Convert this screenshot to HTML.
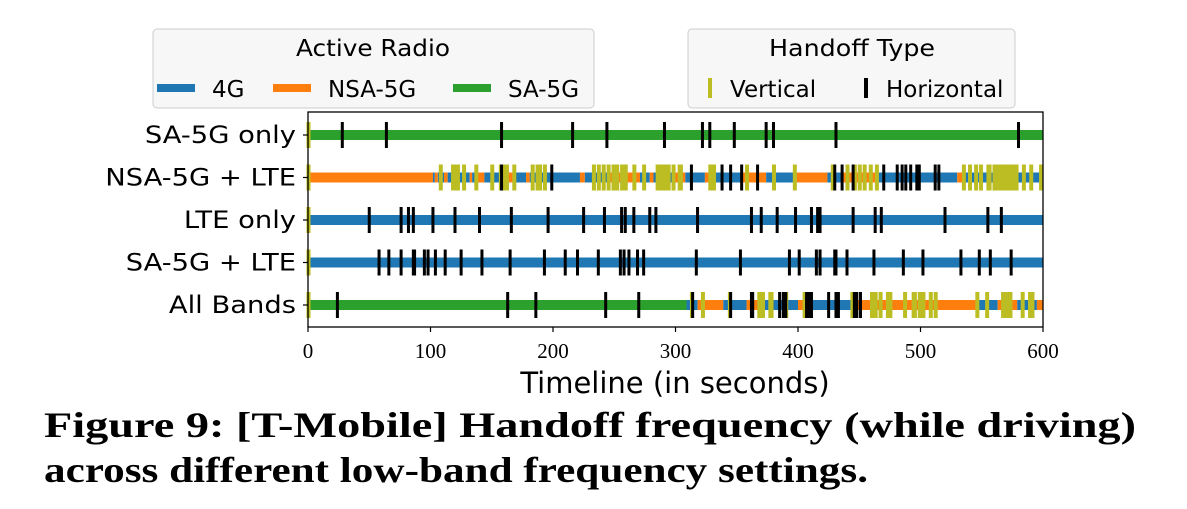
<!DOCTYPE html>
<html><head><meta charset="utf-8"><style>
body{margin:0;background:#fff;width:1187px;height:505px;overflow:hidden;font-family:"DejaVu Sans","Liberation Sans",sans-serif}
</style></head><body>
<svg id="chart" width="1187" height="505" xmlns="http://www.w3.org/2000/svg">
<g id="legends">
 <rect x="153" y="29" width="441" height="79" rx="4" fill="#f7f7f7" stroke="#ccc"/>
 <text x="373" y="56" font-size="23" text-anchor="middle" textLength="154" lengthAdjust="spacingAndGlyphs">Active Radio</text>
 <rect x="157" y="84" width="38" height="8" fill="#1f77b4"/>
 <text x="212" y="97" font-size="23">4G</text>
 <rect x="273" y="84" width="38" height="8" fill="#ff7f0e"/>
 <text x="328" y="97" font-size="23">NSA-5G</text>
 <rect x="453" y="84" width="38" height="8" fill="#2ca02c"/>
 <text x="508" y="97" font-size="23">SA-5G</text>
 <rect x="688" y="29" width="327" height="79" rx="4" fill="#f7f7f7" stroke="#ccc"/>
 <text x="852" y="56" font-size="23" text-anchor="middle" textLength="166" lengthAdjust="spacingAndGlyphs">Handoff Type</text>
 <rect x="708" y="78" width="4" height="20" fill="#bcbd22"/>
 <text x="730" y="97" font-size="23">Vertical</text>
 <rect x="864" y="78" width="4" height="20" fill="#000"/>
 <text x="886" y="97" font-size="23">Horizontal</text>
</g>
<g id="plot"></g>
<text x="675" y="393" font-size="29" text-anchor="middle">Timeline (in seconds)</text>
<text x="44" y="437" font-size="36" font-weight="bold" font-family="Liberation Serif" textLength="1092" lengthAdjust="spacingAndGlyphs">Figure 9: [T-Mobile] Handoff frequency (while driving)</text>
<text x="44" y="482" font-size="36" font-weight="bold" font-family="Liberation Serif" textLength="824" lengthAdjust="spacingAndGlyphs">across different low-band frequency settings.</text>
</svg>
<script>
const categories = ["SA-5G only","NSA-5G + LTE","LTE only","SA-5G + LTE","All Bands"];
const xTicks = [0,100,200,300,400,500,600];
const segSA = [[0,600,"SA"]];
const segNSA = [[0,102,"NSA"],[102,103.5,"4G"],[103.5,106,"NSA"],[106,111,"4G"],[111,114,"NSA"],[114,132,"4G"],[132,134,"NSA"],[134,136,"4G"],[136,144,"NSA"],[144,162,"4G"],[162,167,"NSA"],[167,178,"4G"],[178,181,"NSA"],[181,222,"4G"],[222,226,"NSA"],[226,246,"4G"],[246,271,"NSA"],[271,279,"4G"],[279,282,"NSA"],[282,298,"4G"],[298,308,"NSA"],[308,324,"4G"],[324,327,"NSA"],[327,354,"4G"],[354,374,"NSA"],[374,399,"4G"],[399,424,"NSA"],[424,437,"4G"],[437,465,"NSA"],[465,530,"4G"],[530,534,"NSA"],[534,600,"4G"]];
const segLTE = [[0,600,"4G"]];
const segSALTE = [[0,600,"4G"]];
const segAll = [[0,309,"SA"],[309,318,"4G"],[318,339,"NSA"],[339,358,"4G"],[358,373,"NSA"],[373,400,"4G"],[400,412,"NSA"],[412,444,"4G"],[444,545,"NSA"],[545,563,"4G"],[563,579,"NSA"],[579,595,"4G"],[595,600,"NSA"]];
const horizSA = [28,64,158,216,244,291,322,328,348,374,380,431,580];
const horizNSA = [158,199,313,338,345,354,367,430,436,445,470,481,485,488,492,497,499,512,515];
const horizLTE = [50,76,82,86,102,120,140,166,196,225,242,256,259,266,279,284,318,362,370,383,398,411,416,418,445,463,468,520,555,566];
const horizSALTE = [58,66,76,86,87,95,98,104,112,125,142,165,193,210,220,237,255,258,262,269,274,317,353,393,401,415,418,430,431,440,462,486,502,533,548,557,574];
const horizAll = [24,163,186,243,270,314,345,362,363,385,388,390,407,409,411,425,431,433,446,448,451];
const vertSA = [0];
const vertNSA = [0,108,118,120,122,127,137,150,157,160,162,168,183,187,189,193,233,237,241,245,249,252,256,259,266,274,285,288,291,294,298,303,304,328,331,358,380,397,428,440,446,450,454,459,464,535,540,545,549,555,556,560,563,566,569,572,575,578,584,590,598];
const vertLTE = [0];
const vertSALTE = [0];
const vertAll = [0,313,322,344,368,371,377,378,390,405,444,446,460,463,467,473,475,487,494,495,499,502,508,512,546,554,567,570,573,583,589,591];

const segs=[segSA,segNSA,segLTE,segSALTE,segAll];
const horiz=[horizSA,horizNSA,horizLTE,horizSALTE,horizAll];
const vert=[vertSA,vertNSA,vertLTE,vertSALTE,vertAll];
const colors={"4G":"#1f77b4","NSA":"#ff7f0e","SA":"#2ca02c"};
const X0=308,X1=1043,T=112,B=327;
const xs=v=>X0+(v-0)/600*(X1-X0);
const ys=i=>135+i*42.5;
const NS="http://www.w3.org/2000/svg";
const g=document.getElementById('plot');
function mk(tag,attrs){const e=document.createElementNS(NS,tag);for(const k in attrs)e.setAttribute(k,attrs[k]);g.appendChild(e);return e;}
categories.forEach((c,i)=>{
  const y=ys(i);
  segs[i].forEach(s=>{
    const r=mk('rect',{x:xs(s[0]),y:y-5,width:Math.max(0.5,xs(s[1])-xs(s[0])),height:10,fill:colors[s[2]]});
    
    
  });
  vert[i].forEach(v=>{
    const r=mk('rect',{x:xs(v)-1.5,y:y-13,width:4,height:26,fill:'#bcbd22'});
    
    
  });
  horiz[i].forEach(v=>{
    const r=mk('rect',{x:xs(v)-1.5,y:y-13,width:3,height:26,fill:'#000'});
    
    
  });
  const t=mk('text',{x:296,y:y+8,'font-size':24,'text-anchor':'end'});
  t.textContent=c;
  
  
  const w=t.getComputedTextLength();
  t.setAttribute('textLength',w*1.14);
  t.setAttribute('lengthAdjust','spacingAndGlyphs');
  mk('line',{x1:303,x2:308,y1:y,y2:y,stroke:'#000','stroke-width':1.2});
});
const fr=mk('rect',{x:X0,y:T,width:X1-X0,height:B-T,fill:'none',stroke:'#000','stroke-width':1.3});


xTicks.forEach(v=>{
  mk('line',{x1:xs(v),x2:xs(v),y1:B,y2:B+5,stroke:'#000','stroke-width':1.2});
  const t=mk('text',{x:xs(v),y:B+31,'font-size':21,'text-anchor':'middle','font-family':'Liberation Serif'});
  t.textContent=v;
  
  
});
</script>
</body></html>
